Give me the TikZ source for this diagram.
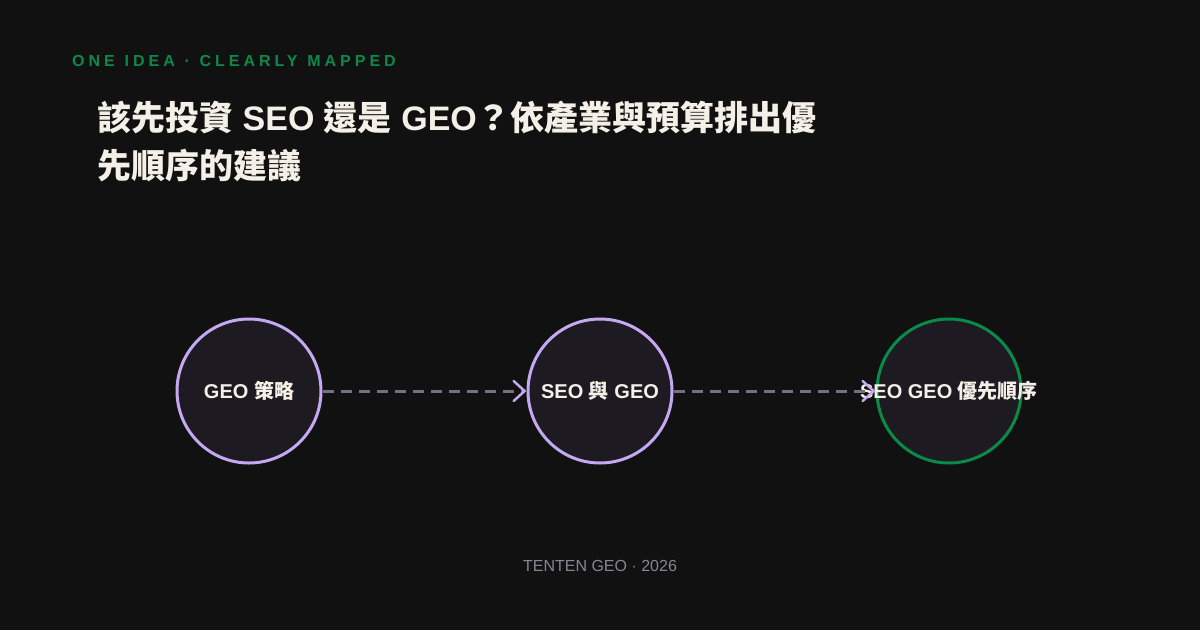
\documentclass[tikz,border=0pt]{standalone}
\usepackage{fontspec}
\setmainfont{Liberation Sans}
\newfontfamily\cjk{Noto Sans CJK TC}
\newfontfamily\kickerfont[LetterSpace=25, WordSpace=1.15]{Liberation Sans}
\usetikzlibrary{arrows.meta}
\definecolor{bgcol}{RGB}{17, 17, 17}
\definecolor{nodefill}{RGB}{29, 26, 34}
\definecolor{purplecol}{RGB}{196, 168, 240}
\definecolor{greencol}{RGB}{10, 138, 72}
\definecolor{inkcol}{RGB}{244, 240, 232}
\definecolor{dashcol}{RGB}{118, 111, 130}
\definecolor{footcol}{RGB}{138, 133, 145}

\begin{document}
\begin{tikzpicture}[
    x=1pt, y=-1pt,
    steptext/.style={text=inkcol, font=\bfseries\fontsize{20}{24}\selectfont},
    stepnode/.style={circle, draw=purplecol, fill=nodefill, line width=3pt,
        minimum size=144pt, inner sep=0pt, steptext},
    goalnode/.style={stepnode, draw=greencol},
    link/.style={draw=dashcol, line width=3pt, dash pattern=on 11pt off 7pt,
        -{Straight Barb[length=11pt, width=20pt, line width=2.5pt, color=purplecol, line cap=round]}},
    kicker/.style={anchor=base west, inner sep=0pt, text=greencol,
        font=\kickerfont\bfseries\fontsize{16}{19}\selectfont},
    titletext/.style={anchor=base west, inner sep=0pt, text=inkcol,
        font=\bfseries\fontsize{34}{48}\selectfont},
    foottext/.style={anchor=base, inner sep=0pt, text=footcol,
        font=\fontsize{16}{19}\selectfont}
]

% Canvas
\fill[bgcol] (0,0) rectangle (1200,630);
\useasboundingbox (0,0) rectangle (1200,630);

% Header
\node[kicker] (kick) at (72,66) {ONE IDEA · CLEARLY MAPPED};
\node[titletext] (title1) at (97,130) {{\cjk 該先投資} SEO {\cjk 還是} GEO{\cjk ？依產業與預算排出優}};
\node[titletext] (title2) at (97,178) {{\cjk 先順序的建議}};

% Steps
\node[stepnode] (geo)    at (249,391) {GEO {\cjk 策略}};
\node[stepnode] (seogeo) at (600,391) {SEO {\cjk 與} GEO};
\node[goalnode, label={[steptext]center:SEO GEO {\cjk 優先順序}}] (order) at (949,391) {};

% Links
\draw[link] (geo) -- (seogeo);
\draw[link] (seogeo) -- (order);

% Footer
\node[foottext] (foot) at (600,571) {TENTEN GEO · 2026};

\end{tikzpicture}
\end{document}
